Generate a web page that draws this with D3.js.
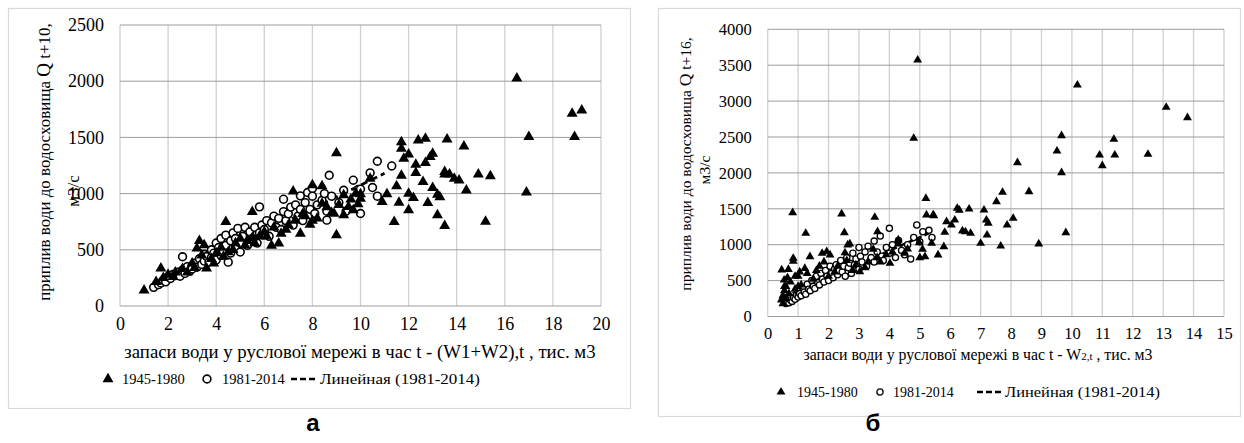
<!DOCTYPE html>
<html lang="uk">
<head>
  <meta charset="UTF-8">
  <title>Приплив води</title>
  <script src="https://d3js.org/d3.v7.min.js"></script>
  <style>
    body { margin: 0; background: #fff; }
    svg text { font-family: "Liberation Serif", "Times New Roman", serif; fill: #000; }
    .grid-v { stroke: #d0d0d0; stroke-width: 1.3; }
    .grid-h { stroke: #9c9c9c; stroke-width: 1; }
    .frame { fill: none; stroke: #d9d9d9; stroke-width: 1.2; }
  </style>
</head>
<body>
<div id="chart"></div>
<script>
  // ---- panel а : (W1+W2) vs Q t+10 ----
  const aXTicks = [0, 2, 4, 6, 8, 10, 12, 14, 16, 18, 20];
  const aYTicks = [0, 500, 1000, 1500, 2000, 2500];

  const aTriangles = [
    [1.0,140],[1.5,216],[1.7,335],[1.8,250],[2.0,280],[2.2,260],[2.3,300],[2.6,330],[2.8,300],
    [3.0,380],[3.1,340],[3.2,512],[3.3,580],[3.4,450],[3.5,542],[3.6,335],[3.8,420],[3.9,380],
    [4.0,470],[4.2,520],[4.3,440],[4.4,749],[4.5,480],[4.7,500],[4.8,560],[5.0,600],[5.2,540],
    [5.3,580],[5.5,837],[5.5,607],[5.6,560],[5.8,620],[6.0,660],[6.1,620],[6.3,537],[6.4,700],
    [6.6,557],[6.7,645],[6.9,680],[7.0,720],[7.2,1020],[7.3,760],[7.5,645],[7.6,820],[7.7,800],
    [7.9,725],[8.0,1075],[8.0,760],[8.2,780],[8.4,1066],[8.4,912],[8.6,880],[8.8,830],[8.9,823],
    [9.0,1361],[9.0,631],[9.1,900],[9.3,986],[9.3,808],[9.5,882],[9.6,950],[9.7,853],[9.8,1000],
    [9.9,906],[10.0,995],[10.0,955],[10.4,1134],[10.9,926],[11.1,995],[11.4,749],[11.5,1066],
    [11.6,921],[11.7,1459],[11.7,1400],[11.7,1161],[11.8,1312],[12.0,1350],[12.0,1001],
    [12.0,853],[12.2,962],[12.3,1258],[12.3,1184],[12.4,1474],[12.6,1104],[12.7,1489],
    [12.7,1273],[12.8,918],[12.9,1326],[13.0,1051],[13.0,1356],[13.2,992],[13.2,808],
    [13.3,970],[13.5,1193],[13.5,1172],[13.5,713],[13.6,1483],[13.7,1172],[13.9,1134],
    [14.1,1119],[14.3,1421],[14.4,1030],[14.9,1172],[15.2,752],[15.4,1155],[16.5,2025],
    [16.9,1012],[17.0,1504],[18.8,1711],[18.9,1504],[19.2,1740]
  ];

  const aCircles = [
    [1.4,166],[1.6,190],[1.7,205],[1.8,230],[1.9,215],[2.0,260],[2.1,245],[2.2,280],
    [2.3,270],[2.4,300],[2.5,265],[2.6,438],[2.6,320],[2.7,290],[2.8,350],[2.9,310],
    [3.0,360],[3.0,330],[3.1,380],[3.2,345],[3.3,420],[3.4,370],[3.5,460],[3.5,400],
    [3.6,440],[3.7,390],[3.8,500],[3.8,430],[3.9,470],[4.0,560],[4.0,410],[4.1,520],
    [4.2,600],[4.2,450],[4.3,490],[4.4,630],[4.4,540],[4.5,390],[4.6,580],[4.6,470],
    [4.7,650],[4.8,520],[4.8,600],[4.9,690],[5.0,560],[5.0,480],[5.1,620],[5.2,700],
    [5.3,540],[5.4,660],[5.5,600],[5.6,700],[5.7,560],[5.8,882],[5.8,650],[5.9,720],
    [6.0,680],[6.1,760],[6.2,620],[6.3,740],[6.4,800],[6.5,700],[6.6,780],[6.7,680],
    [6.8,950],[6.8,840],[6.9,760],[7.0,820],[7.1,880],[7.2,720],[7.3,900],[7.4,800],
    [7.5,980],[7.5,860],[7.6,760],[7.7,920],[7.8,1010],[7.9,860],[8.0,1045],[8.0,977],
    [8.1,823],[8.2,900],[8.4,941],[8.5,1000],[8.6,764],[8.6,843],[8.7,1163],[8.8,977],
    [9.1,921],[9.3,1030],[9.4,843],[9.7,1119],[9.9,1036],[10.0,1039],[10.0,823],
    [10.4,1184],[10.5,1054],[10.7,1288],[10.7,977],[11.3,1246]
  ];

  const aTrend = [[1.4,172],[11.0,1180]];

  // ---- panel б : W2 vs Q t+16 ----
  const bXTicks = [0,1,2,3,4,5,6,7,8,9,10,11,12,13,14,15];
  const bYTicks = [0,500,1000,1500,2000,2500,3000,3500,4000];

  const bTriangles = [
    [0.45,230],[0.5,290],[0.5,180],[0.55,360],[0.55,420],[0.54,508],[0.46,648],[0.6,250],
    [0.6,420],[0.65,540],[0.68,657],[0.7,320],[0.75,480],[0.84,811],[0.84,770],[0.82,1446],
    [0.9,380],[0.9,560],[1.0,560],[1.0,420],[1.05,620],[1.1,440],[1.22,671],[1.25,1159],
    [1.3,600],[1.39,833],[1.5,520],[1.6,640],[1.7,700],[1.79,880],[1.85,760],[1.94,903],
    [2.05,857],[2.0,560],[2.2,620],[2.3,700],[2.43,1428],[2.52,1167],[2.54,888],[2.6,780],
    [2.63,996],[2.7,1010],[2.8,640],[2.9,720],[3.03,624],[3.2,680],[3.3,760],[3.47,936],
    [3.52,1382],[3.6,820],[3.61,1181],[3.7,760],[3.9,860],[4.02,741],[4.1,900],[4.29,1066],
    [4.3,1010],[4.5,880],[4.6,940],[4.8,2482],[4.93,3572],[4.98,1028],[5.0,820],[5.09,936],
    [5.17,833],[5.2,1646],[5.22,1414],[5.39,1020],[5.44,1414],[5.46,1404],[5.6,857],
    [5.79,972],[5.82,1173],[5.88,1320],[6.04,1274],[6.15,1344],[6.23,1507],[6.3,1480],
    [6.4,1191],[6.5,1180],[6.62,1497],[6.67,1159],[7.0,1020],[7.11,1483],[7.19,1344],
    [7.21,1135],[7.25,1300],[7.52,1599],[7.66,982],[7.72,1730],[7.87,1274],[8.07,1368],
    [8.21,2142],[8.59,1738],[8.91,1010],[9.51,2305],[9.66,2518],[9.66,2003],[9.8,1167],
    [10.18,3224],[10.91,2249],[11.0,2100],[11.38,2468],[11.41,2249],[12.5,2259],
    [13.1,2914],[13.8,2770]
  ];

  const bCircles = [
    [0.6,180],[0.65,200],[0.7,190],[0.75,230],[0.8,210],[0.85,260],[0.9,240],[0.95,300],
    [1.0,270],[1.0,350],[1.05,320],[1.1,290],[1.15,400],[1.2,340],[1.25,310],[1.3,450],
    [1.35,380],[1.4,360],[1.45,500],[1.5,420],[1.55,390],[1.6,560],[1.65,470],[1.7,440],
    [1.75,600],[1.8,520],[1.85,480],[1.9,640],[1.95,560],[2.0,500],[2.05,700],[2.1,600],
    [2.15,540],[2.2,660],[2.25,720],[2.3,580],[2.35,640],[2.4,780],[2.45,620],[2.5,700],
    [2.55,560],[2.6,820],[2.65,680],[2.7,740],[2.75,600],[2.8,880],[2.85,720],[2.9,800],
    [3.0,960],[3.0,660],[3.05,840],[3.1,760],[3.2,900],[3.25,700],[3.3,980],[3.4,820],
    [3.5,1050],[3.5,760],[3.6,900],[3.7,1121],[3.75,840],[3.8,780],[3.9,960],[4.0,1228],
    [4.0,880],[4.1,1000],[4.2,820],[4.3,1060],[4.4,920],[4.5,860],[4.6,1000],[4.7,800],
    [4.8,1100],[4.9,1274],[5.0,1040],[5.1,1180],[5.3,1200],[5.4,1100]
  ];

  const bTrend = [[0.55,270],[5.3,1160]];

  const seriesNames = ["1945-1980", "1981-2014", "Линейная (1981-2014)"];

  const W = 1244, H = 443;
  const svg = d3.select("#chart").append("svg")
    .attr("width", W).attr("height", H);

  // outer frames
  svg.append("rect").attr("class", "frame")
    .attr("x", 8.5).attr("y", 8.5).attr("width", 622).attr("height", 400);
  svg.append("rect").attr("class", "frame")
    .attr("x", 658.5).attr("y", 8.5).attr("width", 582).attr("height", 408);

  function drawPanel(p) {
    const x = d3.scaleLinear().domain(p.xDomain).range(p.xRange);
    const y = d3.scaleLinear().domain(p.yDomain).range(p.yRange);
    const g = svg.append("g");

    // gridlines
    g.selectAll(".grid-v").data(p.xTicks).enter().append("line")
      .attr("class", "grid-v")
      .attr("x1", d => x(d)).attr("x2", d => x(d))
      .attr("y1", y(p.yDomain[0])).attr("y2", y(p.yDomain[1]));
    g.selectAll(".grid-h").data(p.yTicks).enter().append("line")
      .attr("class", "grid-h")
      .attr("x1", x(p.xDomain[0])).attr("x2", x(p.xDomain[1]))
      .attr("y1", d => y(d)).attr("y2", d => y(d));

    // axes (labels only; grid carries the lines)
    const xAxis = g.append("g")
      .attr("transform", `translate(0,${y(0) + p.xLabelGap})`)
      .call(d3.axisBottom(x).tickValues(p.xTicks).tickSize(0).tickFormat(d3.format("d")));
    const yAxis = g.append("g")
      .attr("transform", `translate(${x(0) - p.yLabelGap},0)`)
      .call(d3.axisLeft(y).tickValues(p.yTicks).tickSize(0).tickFormat(d3.format("d")));
    [xAxis, yAxis].forEach(a => {
      a.attr("font-family", null).attr("font-size", null);
      a.select(".domain").remove();
      a.selectAll("text")
        .style("font-family", '"Liberation Serif", serif')
        .style("font-size", p.tickFont + "px")
        .attr("fill", "#000");
    });

    // trend line
    g.append("path")
      .datum(p.trend)
      .attr("d", d3.line().x(d => x(d[0])).y(d => y(d[1])))
      .attr("fill", "none").attr("stroke", "#000")
      .attr("stroke-width", p.dashW).attr("stroke-dasharray", p.dash);

    // circles
    g.selectAll(".c").data(p.circles).enter().append("circle")
      .attr("cx", d => x(d[0])).attr("cy", d => y(d[1]))
      .attr("r", p.circleR)
      .attr("fill", "#fff").attr("stroke", "#000").attr("stroke-width", p.circleSW);

    // triangles
    const tri = d3.symbol().type(d3.symbolTriangle).size(p.triSize);
    g.selectAll(".t").data(p.triangles).enter().append("path")
      .attr("d", tri)
      .attr("transform", d => `translate(${x(d[0])},${y(d[1])})`)
      .attr("fill", "#000");

    // y-axis title (two lines, rotated)
    const t1 = g.append("text")
      .attr("transform", `translate(${p.yTitle1[0]},${p.yTitle1[1]}) rotate(-90)`)
      .attr("text-anchor", "middle")
      .style("font-size", p.yTitleFont + "px");
    t1.append("tspan").text("приплив води до водосховища ");
    t1.append("tspan").text("Q").style("font-size", (p.yTitleFont + 2) + "px");
    t1.append("tspan").text(p.qSub);
    g.append("text")
      .attr("transform", `translate(${p.yTitle2[0]},${p.yTitle2[1]}) rotate(-90)`)
      .attr("text-anchor", "middle")
      .style("font-size", p.yTitleFont + "px")
      .text("м3/с");

    // x-axis title
    const xt = g.append("text")
      .attr("x", p.xTitle[0]).attr("y", p.xTitle[1])
      .attr("text-anchor", "middle")
      .style("font-size", p.xTitleFont + "px");
    p.xTitleParts.forEach(part => {
      xt.append("tspan").text(part[0]).style("font-size", (p.xTitleFont * part[1]) + "px");
    });

    // legend
    const lg = g.append("g").attr("transform", `translate(0,${p.legendY})`);
    lg.append("path").attr("d", d3.symbol().type(d3.symbolTriangle).size(p.triSize)())
      .attr("transform", `translate(${p.legendX[0]},0)`).attr("fill", "#000");
    lg.append("text").attr("x", p.legendX[1]).attr("y", 5)
      .style("font-size", p.legendFont + "px").text(seriesNames[0]);
    lg.append("circle").attr("cx", p.legendX[2]).attr("cy", 0).attr("r", p.circleR)
      .attr("fill", "#fff").attr("stroke", "#000").attr("stroke-width", p.circleSW);
    lg.append("text").attr("x", p.legendX[3]).attr("y", 5)
      .style("font-size", p.legendFont + "px").text(seriesNames[1]);
    lg.append("line").attr("x1", p.legendX[4]).attr("x2", p.legendX[5])
      .attr("y1", 0).attr("y2", 0)
      .attr("stroke", "#000").attr("stroke-width", 2.5).attr("stroke-dasharray", "6,3");
    lg.append("text").attr("x", p.legendX[6]).attr("y", 5)
      .attr("textLength", p.linLen).attr("lengthAdjust", "spacingAndGlyphs")
      .style("font-size", p.legendFont + "px").text(seriesNames[2]);

    // panel letter
    svg.append("text")
      .attr("x", p.letter[0]).attr("y", p.letter[1])
      .attr("text-anchor", "middle")
      .style("font-family", '"Liberation Sans", Arial, sans-serif')
      .style("font-weight", "bold").style("font-size", "24px")
      .text(p.letter[2]);
  }

  drawPanel({
    xDomain: [0, 20], yDomain: [0, 2500],
    xRange: [120, 601], yRange: [306, 25],
    xTicks: aXTicks, yTicks: aYTicks,
    triangles: aTriangles, circles: aCircles, trend: aTrend,
    xLabelGap: 8, yLabelGap: 13, tickFont: 18,
    circleR: 3.9, circleSW: 1.6, triSize: 52, dashW: 2.8, dash: "7,4",
    yTitle1: [50, 162], yTitle2: [79, 191], yTitleFont: 17, qSub: " t+10,",
    xTitle: [360, 358], xTitleFont: 18.8,
    xTitleParts: [["запаси води у руслової  мережі в час t -  (W1+W2),t , тис. м3", 1]],
    legendY: 379, legendFont: 14.5, linLen: 160,
    legendX: [108, 122, 207, 222, 291, 318, 320],
    letter: [313, 431, "а"]
  });

  drawPanel({
    xDomain: [0, 15], yDomain: [0, 4000],
    xRange: [767.7, 1224], yRange: [316.5, 29.3],
    xTicks: bXTicks, yTicks: bYTicks,
    triangles: bTriangles, circles: bCircles, trend: bTrend,
    xLabelGap: 8, yLabelGap: 13, tickFont: 16.5,
    circleR: 3.1, circleSW: 1.3, triSize: 34, dashW: 2.5, dash: "6,3",
    yTitle1: [691, 164], yTitle2: [710, 170], yTitleFont: 15.5, qSub: " t+16,",
    xTitle: [978, 360], xTitleFont: 15.8,
    xTitleParts: [["запаси води у руслової  мережі в час t -  W", 1], ["2,t", 0.7], [" , тис. м3", 1]],
    legendY: 392, legendFont: 14, linLen: 155,
    legendX: [781, 797, 880, 893, 977, 1003, 1005],
    letter: [873, 431, "б"]
  });
</script>
</body>
</html>
